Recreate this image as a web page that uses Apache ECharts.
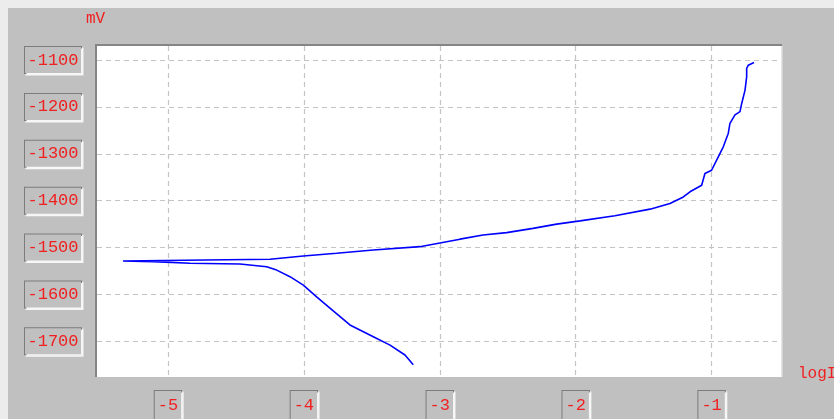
<!DOCTYPE html>
<html>
<head>
<meta charset="utf-8">
<script src="https://cdn.jsdelivr.net/npm/echarts@6/dist/echarts.min.js"></script>
<style>html,body{margin:0;padding:0;background:#c0c0c0;}#c{width:834px;height:419px;}</style>
</head>
<body>
<div id="c"></div>
<script>
// Data (scan order: cathodic branch then anodic branch)
var logI = [-3.195,-3.256,-3.366,-3.489,-3.661,-3.808,-3.906,-4.004,-4.102,-4.200,-4.274,-4.470,-4.838,-4.838,-5.108,
            -5.331,-4.728,-4.249,-4.004,-3.759,-3.489,-3.146,-2.999,-2.851,-2.682,-2.508,-2.314,-2.140,-1.968,-1.711,
            -1.453,-1.306,-1.208,-1.159,-1.073,-1.049,-1.000,-0.962,-0.914,-0.877,-0.865,-0.828,-0.791,-0.778,-0.754,
            -0.742,-0.742,-0.730,-0.688];
var potential = [-1750,-1729,-1708,-1690,-1665,-1629,-1605,-1580,-1562,-1548,-1541,-1535,-1533.5,-1530,-1530,
                 -1528.6,-1526.4,-1525,-1518,-1512,-1505,-1498,-1490,-1482,-1473,-1468,-1459,-1450,-1443,-1432,
                 -1418,-1406,-1392,-1381,-1367,-1342,-1335,-1313,-1285,-1256,-1235,-1217,-1210,-1192,-1164,
                 -1136,-1118,-1111,-1105];
var xTicks = [-5, -4, -3, -2, -1];
var yTicks = [-1700, -1600, -1500, -1400, -1300, -1200, -1100];
var xRange = [-5.522, -0.482];
var yRange = [-1776, -1070];
var yUnit = 'mV';
var xUnit = 'logI';

var pts = logI.map(function (x, i) { return [x, potential[i]]; });
var FONT = '"Liberation Mono", "DejaVu Sans Mono", monospace';
var RED = '#f02020';

var chart = echarts.init(document.getElementById('c'), null, {renderer: 'canvas'});
var boxStyle = {
  color: RED, fontFamily: FONT, fontSize: 17,
  backgroundColor: '#c0c0c0', borderColor: '#7c7c7c', borderWidth: 1,
  shadowColor: '#f6f6f6', shadowBlur: 0, shadowOffsetX: 1.5, shadowOffsetY: 1.5
};
chart.setOption({
  animation: false,
  backgroundColor: '#c0c0c0',
  grid: {
    left: 97, top: 46, right: 52, bottom: 42,
    show: true, backgroundColor: '#ffffff', borderWidth: 0,
    containLabel: false, outerBoundsMode: 'none'
  },
  xAxis: {
    type: 'value', min: xRange[0], max: xRange[1], splitNumber: 5,
    axisLine: {show: false}, axisTick: {show: false, customValues: xTicks},
    axisLabel: Object.assign({
      customValues: xTicks,
      margin: 14, padding: [6, 3, 12, 3], lineHeight: 16,
      formatter: function (v) { return String(v); }
    }, boxStyle),
    splitLine: {show: true, lineStyle: {color: '#c4c4c4', type: [5, 4], width: 1.2}}
  },
  yAxis: {
    type: 'value', min: yRange[0], max: yRange[1], splitNumber: 7,
    axisLine: {show: false}, axisTick: {show: false, customValues: yTicks},
    axisLabel: Object.assign({
      customValues: yTicks,
      align: 'center', margin: 44, width: 50, lineHeight: 17, padding: [5, 3, 4, 3],
      formatter: function (v) { return String(v); }
    }, boxStyle),
    splitLine: {show: true, lineStyle: {color: '#c4c4c4', type: [5, 4], width: 1.2}}
  },
  graphic: [
    {type: 'rect', z: 100, shape: {x: 0, y: 0, width: 834, height: 8}, style: {fill: '#ececec'}},
    {type: 'rect', z: 100, shape: {x: 0, y: 0, width: 8, height: 419}, style: {fill: '#ececec'}},
    {type: 'rect', z: 100, shape: {x: 95, y: 44, width: 687, height: 2}, style: {fill: '#858585'}},
    {type: 'rect', z: 100, shape: {x: 95, y: 44, width: 2, height: 333}, style: {fill: '#858585'}},
    {type: 'rect', z: 100, shape: {x: 781, y: 46, width: 1.5, height: 331}, style: {fill: '#e6e6e6'}},
    {type: 'text', z: 100, left: 86, top: 11, style: {text: yUnit, fill: RED, font: '16px ' + FONT}},
    {type: 'text', z: 100, left: 798, top: 366, style: {text: xUnit, fill: RED, font: '16px ' + FONT}}
  ],
  series: [{
    type: 'line', data: pts, showSymbol: false, symbol: 'none',
    lineStyle: {color: '#0000ff', width: 1.6}, z: 5
  }]
});
</script>
</body>
</html>
